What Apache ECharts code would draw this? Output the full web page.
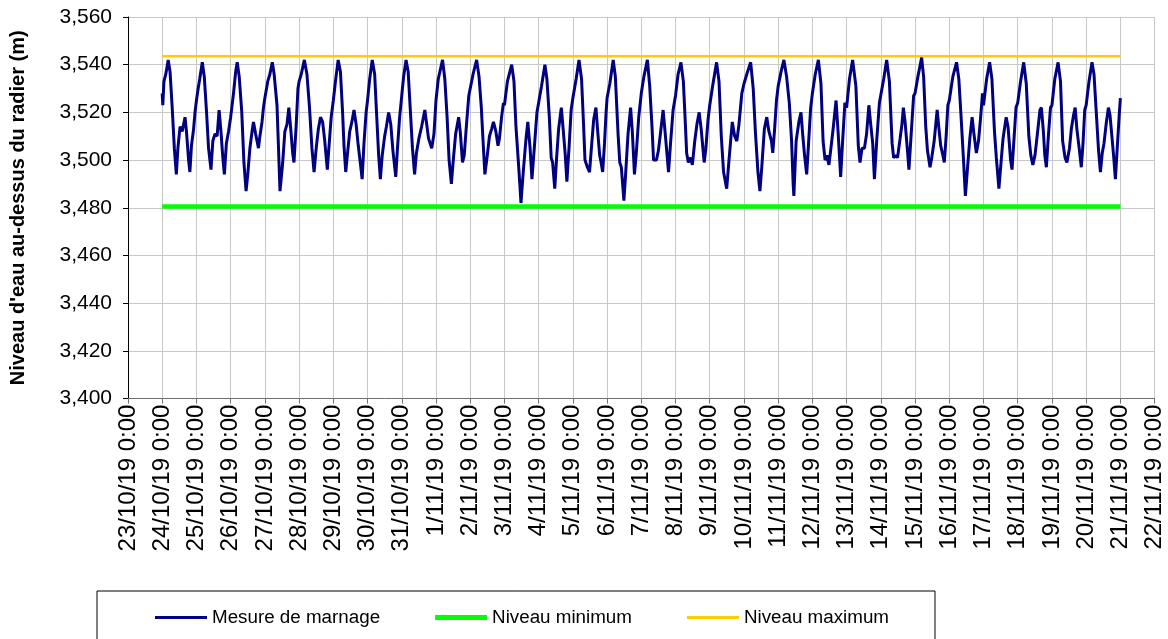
<!DOCTYPE html>
<html>
<head>
<meta charset="utf-8">
<script src="https://cdn.jsdelivr.net/npm/echarts@6/dist/echarts.min.js"></script>
<style>
  html, body { margin: 0; padding: 0; background: #ffffff; }
  #chart { width: 1168px; height: 639px; }
</style>
</head>
<body>
<div id="chart"></div>
<script>
// Daily tick labels, one per day from 23/10/19 to 22/11/19
const tickLabels = [
  '23/10/19 0:00', '24/10/19 0:00', '25/10/19 0:00', '26/10/19 0:00', '27/10/19 0:00',
  '28/10/19 0:00', '29/10/19 0:00', '30/10/19 0:00', '31/10/19 0:00', '1/11/19 0:00',
  '2/11/19 0:00', '3/11/19 0:00', '4/11/19 0:00', '5/11/19 0:00', '6/11/19 0:00',
  '7/11/19 0:00', '8/11/19 0:00', '9/11/19 0:00', '10/11/19 0:00', '11/11/19 0:00',
  '12/11/19 0:00', '13/11/19 0:00', '14/11/19 0:00', '15/11/19 0:00', '16/11/19 0:00',
  '17/11/19 0:00', '18/11/19 0:00', '19/11/19 0:00', '20/11/19 0:00', '21/11/19 0:00',
  '22/11/19 0:00'
];

// Index (in tickLabels) of the first measured day: 24/10/19
const firstDay = 1;

// Hours of each reading within its day, one row per day (24/10 ... 20/11)
const readingHours = [
  [0, 0.4, 1.2, 2.5, 4.2, 5.5, 7.0, 8.5, 9.9, 11.0, 12.5, 14.0, 16.0, 17.0, 18.5, 19.4, 20.5, 22.0, 23.0],
  [0, 1.2, 2.3, 4.1, 5.5, 7, 8.5, 10.2, 11.5, 13, 14.5, 15.9, 17.2, 18.5, 19.6, 21, 22.5],
  [0, 2, 3.5, 4.6, 6, 7.8, 9.3, 10.8, 12, 13.5, 15, 16, 17.5, 19.5, 20.5, 22, 23],
  [0, 2, 3.5, 5.2, 6.5, 8.5, 9.5, 10.6, 12.5, 14, 15.5, 16.8, 18, 19.5, 20.4, 22, 23.2],
  [0, 1.5, 3.7, 5.5, 7.3, 9, 10.5, 12, 13.5, 15, 16.5, 18, 19.8, 21, 22.5],
  [0, 1.5, 3.4, 5, 6.5, 7.5, 8.7, 10, 11.5, 13, 14.5, 16, 17.5, 19.3, 20.2, 21.5, 23],
  [0, 1.5, 3.3, 5, 6.3, 7.8, 9, 10.3, 12, 13.2, 14.8, 16.3, 17.8, 19.8, 21, 22.5],
  [0, 1.3, 3.0, 4.5, 6, 7.5, 9, 10.3, 12, 13.9, 16.2, 17.5, 18.8, 21, 22.6],
  [0, 1.6, 4.6, 6.2, 7.8, 9.2, 10.8, 12, 13.8, 15.9, 17, 18.6, 19.8, 21.3, 23],
  [0, 2, 4.5, 6.2, 7.8, 9.2, 10.3, 12, 13.5, 15, 16.3, 18, 19.5, 20.5, 22, 23.3],
  [0, 2.1, 5.1, 6.7, 8.1, 9.7, 10.8, 11.6, 13.2, 15, 16.4, 18, 19.3, 21.2, 22.8],
  [0, 2, 4.4, 5.8, 7.5, 8.8, 9.8, 11.3, 12.5, 14, 15.9, 17.2, 18.7, 19.8, 21.3, 22.8],
  [0, 2.3, 4.3, 6.1, 7.5, 8.5, 10.2, 11.7, 13, 14.6, 16.2, 17.3, 18.8, 19.8, 20.9, 22.2, 23.3],
  [0, 1.9, 4.3, 5.8, 7.7, 8.9, 10, 11.8, 13, 14.7, 16.5, 17.7, 19.2, 20.5, 22.2],
  [0, 1.8, 4.3, 5.9, 7.5, 8.6, 10.6, 12, 13.4, 15.3, 16.8, 19.1, 20.5, 22.3],
  [0, 1.8, 3.8, 5.5, 7, 7.8, 9, 10.5, 11.8, 13.5, 15, 16.6, 18, 20.1, 21.3, 22.8],
  [0, 2, 4.8, 6.5, 8.1, 9.7, 11.9, 13.5, 15.8, 17.5, 19, 20.5, 22.5],
  [0, 2.5, 4.7, 6.5, 8, 9.8, 11.2, 12.5, 14.3, 16, 17.5, 19.3, 20.2, 21.5, 22.8],
  [0, 2, 4, 5.9, 7.8, 9.4, 10.5, 11, 12.6, 14.5, 16, 17.3, 18.5, 20, 21.3, 22.8],
  [0, 2, 4.2, 6, 7.5, 8.9, 10.2, 11.6, 13, 14.7, 16.6, 18, 19.8, 21.2, 22.8],
  [0, 2, 4.2, 6.5, 8.2, 9.4, 10.8, 12.5, 14, 15.6, 16.9, 18.3, 19.5, 21.2, 23],
  [0, 2, 4.1, 6, 7.9, 9, 10.5, 11.7, 13.5, 14.8, 15.8, 17, 18.8, 19.7, 21.5, 23],
  [0, 2, 4.6, 6, 7.5, 8.7, 10.5, 11.7, 13.4, 15.5, 16.6, 18, 19.5, 20.5, 21.8, 23],
  [0, 2.5, 5.1, 6.7, 8.1, 9.8, 11.3, 12.7, 14.4, 16, 17.3, 19, 20.5, 22, 23.3],
  [0, 2.2, 4.3, 5.9, 7.7, 9, 10.8, 12.3, 13.7, 15.9, 17.2, 19, 20, 21.3, 22.8],
  [0, 2, 4.2, 6, 7.8, 9.2, 10.6, 12.1, 13.8, 15.6, 16.6, 18, 19, 20.1, 21.6, 23],
  [0, 2, 4.3, 6, 7.5, 9.2, 10.5, 12.3, 13.6, 15.2, 16.3, 17.5, 19.3, 20.6, 21.8, 23],
  [0, 2, 4.1, 5.5, 7.3, 8.7, 10, 11.3, 12.5, 14, 15.6, 16.7, 18.2, 19.5, 20.5, 21.8, 23.1, 24]
];

// Water level (m) of each reading, same layout as readingHours
const readingLevels = [
  [3.528, 3.523, 3.533, 3.536, 3.542, 3.537, 3.522, 3.505, 3.494, 3.505, 3.514, 3.512, 3.518, 3.512, 3.500, 3.495, 3.506, 3.513, 3.520],
  [3.525, 3.530, 3.534, 3.541, 3.535, 3.521, 3.505, 3.496, 3.508, 3.511, 3.510, 3.521, 3.512, 3.501, 3.494, 3.507, 3.512],
  [3.518, 3.528, 3.537, 3.541, 3.535, 3.520, 3.499, 3.487, 3.494, 3.505, 3.512, 3.516, 3.511, 3.505, 3.510, 3.516, 3.522],
  [3.526, 3.533, 3.536, 3.541, 3.536, 3.523, 3.506, 3.487, 3.499, 3.512, 3.515, 3.522, 3.514, 3.503, 3.499, 3.515, 3.530],
  [3.533, 3.536, 3.542, 3.536, 3.522, 3.505, 3.495, 3.505, 3.513, 3.518, 3.516, 3.508, 3.496, 3.506, 3.518],
  [3.525, 3.533, 3.542, 3.537, 3.520, 3.506, 3.495, 3.503, 3.512, 3.516, 3.521, 3.515, 3.506, 3.497, 3.492, 3.507, 3.520],
  [3.525, 3.534, 3.542, 3.536, 3.520, 3.502, 3.492, 3.502, 3.510, 3.514, 3.520, 3.515, 3.504, 3.493, 3.505, 3.518],
  [3.527, 3.535, 3.542, 3.537, 3.521, 3.505, 3.494, 3.503, 3.509, 3.514, 3.521, 3.515, 3.509, 3.505, 3.511],
  [3.525, 3.534, 3.542, 3.534, 3.518, 3.500, 3.490, 3.499, 3.511, 3.518, 3.512, 3.499, 3.502, 3.514, 3.527],
  [3.527, 3.536, 3.542, 3.535, 3.522, 3.506, 3.494, 3.502, 3.510, 3.513, 3.516, 3.512, 3.506, 3.509, 3.518, 3.524],
  [3.523, 3.533, 3.540, 3.533, 3.514, 3.500, 3.490, 3.482, 3.495, 3.508, 3.516, 3.505, 3.492, 3.507, 3.520],
  [3.524, 3.531, 3.540, 3.534, 3.518, 3.501, 3.499, 3.488, 3.500, 3.513, 3.522, 3.513, 3.502, 3.491, 3.505, 3.521],
  [3.526, 3.534, 3.542, 3.534, 3.515, 3.500, 3.497, 3.495, 3.505, 3.517, 3.522, 3.513, 3.502, 3.499, 3.495, 3.507, 3.520],
  [3.526, 3.532, 3.542, 3.535, 3.511, 3.499, 3.497, 3.483, 3.494, 3.511, 3.522, 3.512, 3.494, 3.503, 3.518],
  [3.528, 3.535, 3.542, 3.531, 3.514, 3.500, 3.500, 3.504, 3.511, 3.521, 3.511, 3.495, 3.507, 3.521],
  [3.527, 3.536, 3.541, 3.533, 3.514, 3.503, 3.499, 3.501, 3.498, 3.508, 3.515, 3.520, 3.513, 3.499, 3.505, 3.517],
  [3.523, 3.531, 3.541, 3.533, 3.510, 3.495, 3.488, 3.500, 3.516, 3.510, 3.508, 3.515, 3.528],
  [3.532, 3.537, 3.541, 3.530, 3.512, 3.495, 3.487, 3.497, 3.513, 3.518, 3.512, 3.508, 3.503, 3.513, 3.525],
  [3.531, 3.537, 3.542, 3.535, 3.524, 3.508, 3.490, 3.485, 3.508, 3.516, 3.520, 3.510, 3.502, 3.494, 3.507, 3.522],
  [3.528, 3.536, 3.542, 3.532, 3.508, 3.500, 3.502, 3.498, 3.505, 3.514, 3.525, 3.512, 3.493, 3.508, 3.524],
  [3.522, 3.534, 3.542, 3.531, 3.506, 3.499, 3.505, 3.505, 3.511, 3.523, 3.515, 3.507, 3.492, 3.509, 3.524],
  [3.524, 3.534, 3.542, 3.533, 3.507, 3.501, 3.502, 3.501, 3.509, 3.515, 3.522, 3.516, 3.503, 3.496, 3.513, 3.527],
  [3.528, 3.535, 3.543, 3.535, 3.514, 3.504, 3.497, 3.501, 3.508, 3.521, 3.514, 3.506, 3.502, 3.499, 3.510, 3.523],
  [3.525, 3.535, 3.541, 3.534, 3.520, 3.502, 3.485, 3.496, 3.509, 3.518, 3.511, 3.503, 3.508, 3.518, 3.528],
  [3.523, 3.534, 3.541, 3.534, 3.512, 3.501, 3.488, 3.499, 3.509, 3.518, 3.514, 3.500, 3.496, 3.508, 3.522],
  [3.524, 3.533, 3.541, 3.532, 3.510, 3.502, 3.498, 3.502, 3.511, 3.521, 3.522, 3.512, 3.502, 3.497, 3.511, 3.522],
  [3.523, 3.534, 3.541, 3.533, 3.508, 3.501, 3.499, 3.505, 3.513, 3.519, 3.522, 3.513, 3.504, 3.497, 3.507, 3.521],
  [3.523, 3.533, 3.541, 3.536, 3.518, 3.504, 3.495, 3.503, 3.507, 3.515, 3.522, 3.519, 3.509, 3.500, 3.492, 3.505, 3.518, 3.526]
];

// Regulated limits (m) and the period they apply to (tick indices)
const minLevel = 3.4805;
const maxLevel = 3.5435;
const limitSpan = [1, 29];

// Axis range of the water level (m)
const levelMin = 3.400, levelMax = 3.560, levelStep = 0.020;

const seriesNames = ['Mesure de marnage', 'Niveau minimum', 'Niveau maximum'];
const seriesColors = ['#000080', '#00ff00', '#ffcc00'];

// Build [day position, level] pairs: x is measured in days from 23/10/19 0:00
const measured = [];
readingHours.forEach((hours, d) => {
  hours.forEach((h, i) => {
    measured.push([firstDay + d + h / 24, readingLevels[d][i]]);
  });
});
const minLine = limitSpan.map(x => [x, minLevel]);
const maxLine = limitSpan.map(x => [x, maxLevel]);

const FONT = "'Liberation Sans', Arial, sans-serif";

// Legend samples: flat bars whose thickness follows each line's width
const legendIcons = [
  'path://M0,0H52V3H0Z',
  'path://M0,0H52V5H0Z',
  'path://M0,0H52V3H0Z'
];

const chart = echarts.init(document.getElementById('chart'), null, { renderer: 'canvas' });
chart.setOption({
  animation: false,
  backgroundColor: '#ffffff',
  grid: { left: 128, right: 13.4, top: 17, bottom: 240.4, containLabel: false },
  xAxis: {
    type: 'value',
    min: 0,
    max: tickLabels.length - 1,
    interval: 1,
    axisLine: { show: true, onZero: false, lineStyle: { color: '#707070', width: 1 } },
    axisTick: { show: true, length: 5, lineStyle: { color: '#707070' } },
    splitLine: { show: true, lineStyle: { color: '#c8c8c8', width: 1 } },
    axisLabel: {
      rotate: 90,
      margin: 6,
      color: '#000000',
      fontFamily: FONT,
      fontSize: 24,
      showMinLabel: true,
      showMaxLabel: true,
      formatter: v => tickLabels[Math.round(v)] || ''
    }
  },
  yAxis: {
    type: 'value',
    min: levelMin,
    max: levelMax,
    interval: levelStep,
    name: "Niveau d'eau au-dessus du radier (m)",
    nameLocation: 'middle',
    nameRotate: 90,
    nameGap: 100,
    nameTextStyle: { fontFamily: FONT, fontSize: 20, fontWeight: 'bold', color: '#000000' },
    axisLine: { show: true, lineStyle: { color: '#000000', width: 1 } },
    axisTick: { show: true, length: 5, lineStyle: { color: '#000000' } },
    splitLine: { show: true, lineStyle: { color: '#c8c8c8', width: 1 } },
    axisLabel: {
      margin: 16,
      color: '#000000',
      fontFamily: FONT,
      fontSize: 21,
      formatter: v => v.toFixed(3).replace('.', ',')
    }
  },
  legend: {
    left: 97,
    top: 591,
    orient: 'horizontal',
    itemWidth: 52,
    itemHeight: 14,
    itemGap: 55,
    symbolKeepAspect: true,
    padding: [17, 46, 22, 58],
    borderColor: '#000000',
    borderWidth: 1,
    textStyle: { fontFamily: FONT, fontSize: 18.8, color: '#000000' },
    data: seriesNames.map((name, i) => ({
      name: name,
      icon: legendIcons[i],
      itemStyle: { color: seriesColors[i] }
    }))
  },
  series: [
    {
      name: seriesNames[0],
      type: 'line',
      data: measured,
      symbol: 'none',
      lineStyle: { color: seriesColors[0], width: 3 },
      itemStyle: { color: seriesColors[0] },
      z: 3
    },
    {
      name: seriesNames[1],
      type: 'line',
      data: minLine,
      symbol: 'none',
      lineStyle: { color: seriesColors[1], width: 4.5 },
      itemStyle: { color: seriesColors[1] },
      z: 2
    },
    {
      name: seriesNames[2],
      type: 'line',
      data: maxLine,
      symbol: 'none',
      lineStyle: { color: seriesColors[2], width: 2.5 },
      itemStyle: { color: seriesColors[2] },
      z: 2
    }
  ]
});
</script>
</body>
</html>
